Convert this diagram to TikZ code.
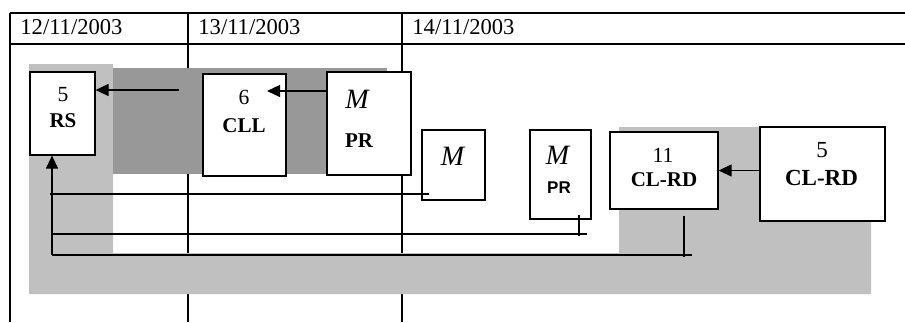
\documentclass[tikz,border=0pt]{standalone}
\usepackage{fontspec}
\setmainfont{Liberation Serif}
\setsansfont{Liberation Sans}
\usetikzlibrary{arrows.meta}

\definecolor{lightshade}{RGB}{192,192,192}
\definecolor{darkshade}{RGB}{152,152,152}

\begin{document}
\begin{tikzpicture}[x=0.5pt, y=-0.5pt,
  box/.style={draw, fill=white, line width=0.6pt, inner sep=0pt},
  conn/.style={line width=0.6pt, -{Triangle[length=6.5pt, width=6pt]}},
  wire/.style={line width=0.6pt},
  grid line/.style={line width=0.6pt},
  datetext/.style={font=\fontsize{11.3}{13}\selectfont, anchor=base west, inner sep=0pt},
  num/.style={font=\fontsize{10.8}{12}\selectfont, inner sep=0pt},
  code/.style={font=\fontsize{10.5}{12}\selectfont\bfseries, inner sep=0pt},
  mtext/.style={font=\fontsize{14}{16}\selectfont\itshape, inner sep=0pt}]

  \useasboundingbox (0,0) rectangle (905,322);

  % Date header and day columns
  \draw[grid line] (10,13) -- (905,13);
  \draw[grid line] (10,44) -- (905,44);
  \foreach \x in {10,188,402}
    \draw[grid line] (\x,13) -- (\x,322);
  \node[datetext] (d12) at (20,34) {12/11/2003};
  \node[datetext] (d13) at (198,34) {13/11/2003};
  \node[datetext] (d14) at (412,34) {14/11/2003};

  % Shaded zones
  \fill[lightshade] (29,64) -- (113,64) -- (113,253) -- (619,253) -- (619,127)
    -- (871,127) -- (871,294) -- (29,294) -- cycle;
  \fill[darkshade] (113,68) rectangle (387,174);

  % Boxes
  \node[box, minimum width=32.5pt, minimum height=41.5pt] (rs) at (62.5,113.5) {};
  \node[box, minimum width=41.5pt, minimum height=51pt] (cll) at (244.5,125) {};
  \node[box, minimum width=42pt, minimum height=51.5pt] (mpr) at (369,123.5) {};
  \node[box, minimum width=31.5pt, minimum height=35pt] (m) at (453.5,165) {};
  \node[box, minimum width=30.5pt, minimum height=44.5pt] (mprs) at (560.5,174.5) {};
  \node[box, minimum width=54pt, minimum height=38.5pt] (cl11) at (664,170.5) {};
  \node[box, minimum width=62.5pt, minimum height=47pt] (cl5) at (822.5,174) {};

  % Box texts
  \node[num] (rsnum) at (63,95) {5};
  \node[code] (rscode) at (63,121) {RS};
  \node[num] (cllnum) at (244,97) {6};
  \node[code] (cllcode) at (244,126) {CLL};
  \node[mtext] (mprm) at (357,99) {M};
  \node[code] (mprcode) at (359,141) {PR};
  \node[mtext] (mm) at (452.5,156) {M};
  \node[mtext] (mprsm) at (557.5,155) {M};
  \node[font=\fontsize{8.5}{10}\selectfont\sffamily\bfseries, inner sep=0pt] (mprscode) at (559,188) {PR};
  \node[num] (cl11num) at (663,155) {11};
  \node[code] (cl11code) at (664,180) {CL-RD};
  \node[num, font=\fontsize{11.5}{13}\selectfont] (cl5num) at (822,150) {5};
  \node[code, font=\fontsize{11.5}{13}\selectfont\bfseries] (cl5code) at (821.5,178) {CL-RD};

  % Arrows between boxes
  \coordinate (s1) at (179,90);
  \draw[conn] (s1) -- (s1 -| rs.east);
  \coordinate (t2) at (267,91);
  \draw[conn] (t2 -| mpr.west) -- (t2);
  \draw[conn] (cl5.west |- cl11.east) -- (cl11.east);

  % Return lines to RS
  \coordinate (j1) at (50,194);
  \coordinate (j2) at (52,234);
  \coordinate (j3) at (52,255);
  \coordinate (e2) at (587,234);
  \coordinate (e3) at (692,255);
  \coordinate (k2) at (579,236);
  \coordinate (k3) at (684,257);
  \draw[conn] (j3) -- (j3 |- rs.south);
  \draw[wire] (j1) -- ([xshift=4pt]j1 -| m.west);
  \draw[wire] (j2) -- (e2);
  \draw[wire] ([yshift=2.5pt]k2 |- mprs.south) -- (k2);
  \draw[wire] (j3) -- (e3);
  \draw[wire] ([yshift=-3pt]k3 |- cl11.south) -- (k3);

\end{tikzpicture}
\end{document}
